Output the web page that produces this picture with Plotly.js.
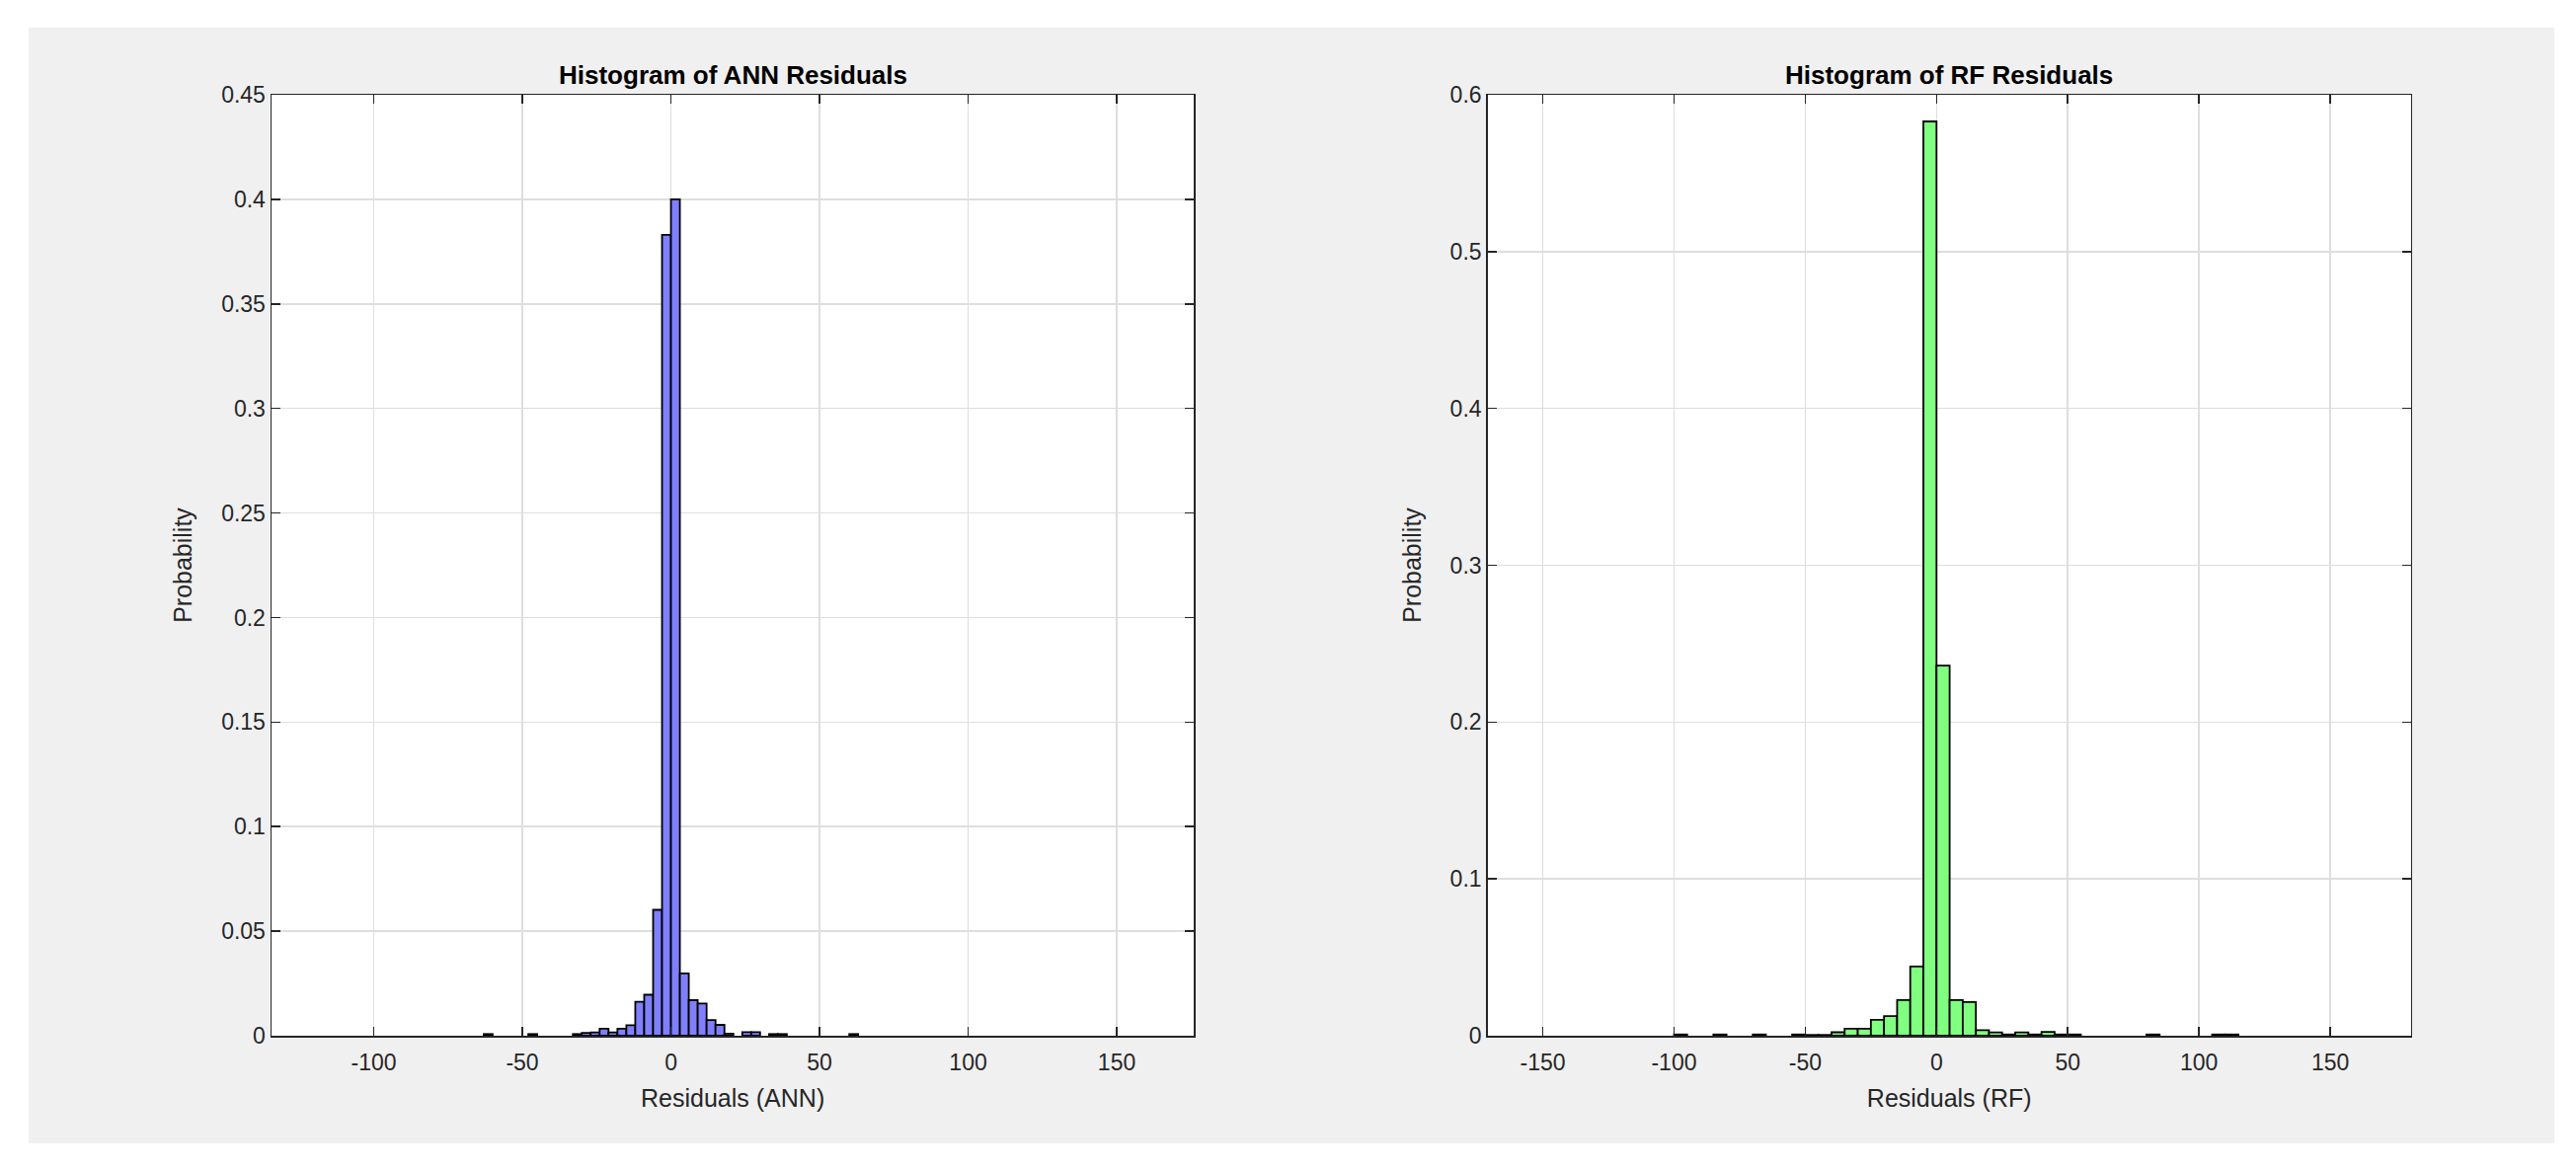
<!DOCTYPE html>
<html>
<head>
<meta charset="utf-8">
<script src="https://cdn.plot.ly/plotly-3.0.1.min.js"></script>
<style>
	html, body { margin: 0; padding: 0; background: #ffffff; }
	#residuals { position: absolute; left: 29px; top: 28px; width: 2558px; height: 1130px; }
</style>
</head>
<body>
<div id="residuals"></div>
<script>
'use strict';

/**
* Data - probabilities read off each non-empty bin
* (bins given by left edge + fixed bin width)
*/
const annBinWidth = 3;
const annBinStart = [-63, -48, -33, -30, -27, -24, -21, -18, -15, -12, -9, -6, -3, 0, 3, 6, 9, 12, 15, 18, 24, 27, 33, 36, 60];
const annProb     = [0.0008, 0.0008, 0.0008, 0.0014, 0.0016, 0.0034, 0.0016, 0.0034, 0.005, 0.0162, 0.0196, 0.0602, 0.383, 0.400, 0.0298, 0.017, 0.0154, 0.0075, 0.0052, 0.001, 0.0017, 0.0017, 0.0008, 0.0008, 0.0008];

const rfBinWidth = 5;
const rfBinStart = [-100, -85, -70, -55, -50, -45, -40, -35, -30, -25, -20, -15, -10, -5, 0, 5, 10, 15, 20, 25, 30, 35, 40, 45, 50, 80, 105, 110];
const rfProb     = [0.0008, 0.0008, 0.0008, 0.0008, 0.0005, 0.0005, 0.0022, 0.0045, 0.0045, 0.0102, 0.0125, 0.0228, 0.0442, 0.583, 0.236, 0.0228, 0.0215, 0.0035, 0.0021, 0.0008, 0.0021, 0.0008, 0.0024, 0.0008, 0.0008, 0.0008, 0.0008, 0.0008];

// x tick labels (hyphen minus, as in the original)
const annXTicks = [-100, -50, 0, 50, 100, 150];
const annXLabels = ['-100', '-50', '0', '50', '100', '150'];
const rfXTicks = [-150, -100, -50, 0, 50, 100, 150];
const rfXLabels = ['-150', '-100', '-50', '0', '50', '100', '150'];

const titles = ['Histogram of ANN Residuals', 'Histogram of RF Residuals'];
const xTitles = ['Residuals (ANN)', 'Residuals (RF)'];

/**
* Styles
*/
const fontFamily = '"Liberation Sans", Arial, Helvetica, sans-serif';
const axisColor = '#262626';
const gridColor = '#dedede';

const xDomains = [
	[0.09617, 0.46141],
	[0.57768, 0.94320],
];

/**
* bar trace from bins
* @param {Array} starts - left bin edges
* @param {Array} probs
* @param {Number} width - bin width
* @param {String} fill
* @param {String} axisN - '' or '2'
* @returns {Object} plotly trace
*/
const histTrace = ( starts, probs, width, fill, axisN ) => ({
	type: 'bar',
	x: starts.map( s => s + width / 2 ),
	y: probs,
	width: starts.map(() => width ),
	xaxis: 'x' + axisN,
	yaxis: 'y' + axisN,
	marker: {
		color: fill,
		line: { color: '#000000', width: 1.8 },
	},
	hoverinfo: 'x+y',
	showlegend: false,
});

const baseAxis = {
	showline: true,
	linecolor: axisColor,
	linewidth: 1.5,
	mirror: 'ticks',
	ticks: 'inside',
	ticklen: 9,
	tickwidth: 1.5,
	tickcolor: axisColor,
	showgrid: true,
	gridcolor: gridColor,
	gridwidth: 1.5,
	zeroline: false,
	tickfont: { family: fontFamily, size: 23, color: axisColor },
};

const xAxis = ( i, range, tickvals, ticktext ) => Object.assign({}, baseAxis, {
	domain: xDomains[i],
	anchor: i ? 'y2' : 'y',
	range,
	tickmode: 'array',
	tickvals,
	ticktext,
	ticklabelstandoff: 6,
	title: {
		text: xTitles[i],
		font: { family: fontFamily, size: 25, color: axisColor },
		standoff: 15,
	},
});

const yAxis = ( i, range, dtick ) => Object.assign({}, baseAxis, {
	domain: [0, 1],
	anchor: i ? 'x2' : 'x',
	range,
	dtick,
	tick0: 0,
	title: {
		text: 'Probability',
		font: { family: fontFamily, size: 25, color: axisColor },
		standoff: 22,
	},
});

const data = [
	histTrace( annBinStart, annProb, annBinWidth, '#8080ff', '' ),
	histTrace( rfBinStart, rfProb, rfBinWidth, '#80ff80', '2' ),
];

const layout = {
	width: 2558,
	height: 1130,
	paper_bgcolor: '#f0f0f0',
	plot_bgcolor: '#ffffff',
	margin: { l: 0, r: 0, t: 67.5, b: 108.5 },
	barmode: 'overlay',
	font: { family: fontFamily, color: axisColor },
	xaxis: xAxis( 0, [-134.4, 176], annXTicks, annXLabels ),
	yaxis: yAxis( 0, [0, 0.45], 0.05 ),
	xaxis2: xAxis( 1, [-171, 180.7], rfXTicks, rfXLabels ),
	yaxis2: yAxis( 1, [0, 0.6], 0.1 ),
	annotations: titles.map(( text, i ) => ({
		text: '<b>' + text + '</b>',
		xref: 'paper',
		yref: 'paper',
		x: ( xDomains[i][0] + xDomains[i][1] ) / 2,
		y: 1,
		xanchor: 'center',
		yanchor: 'bottom',
		yshift: 3,
		showarrow: false,
		font: { family: fontFamily, size: 26, color: '#000000' },
	})),
};

Plotly.newPlot( 'residuals', data, layout, { displayModeBar: false, staticPlot: true });
</script>
</body>
</html>
